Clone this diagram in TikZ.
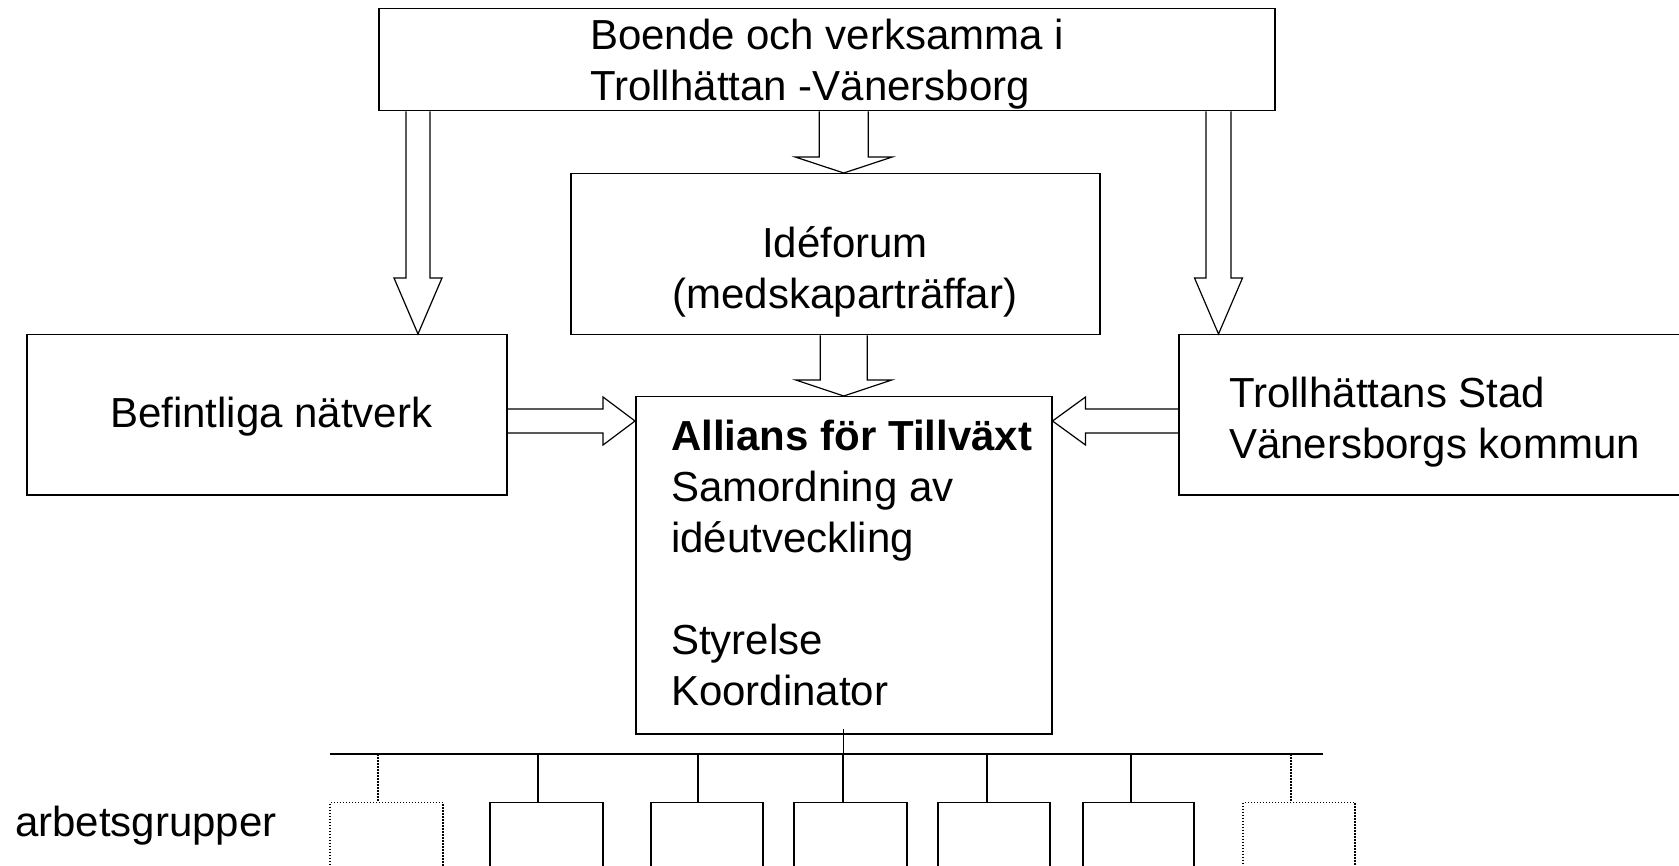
\documentclass[tikz,border=0pt]{standalone}
\usepackage{fontspec}
\setmainfont{Liberation Sans}
\usetikzlibrary{calc}

% hollow block arrow: start, tip, shaft half width, head half width, head length
\newcommand{\hollowarrow}[5]{%
  \coordinate (hb) at ($(#2)!#5pt!(#1)$);
  \draw[blockarrow] ($(#1)!#3pt!90:(#2)$) -- ($(hb)!#3pt!90:(#2)$) -- ($(hb)!#4pt!90:(#2)$) -- (#2)
    -- ($(hb)!#4pt!-90:(#2)$) -- ($(hb)!#3pt!-90:(#2)$) -- ($(#1)!#3pt!-90:(#2)$);
}

\begin{document}
\begin{tikzpicture}[x=1pt,y=-1pt,
        box/.style={
        draw=black,
        line width=1.5pt,
        inner sep=0pt,
        anchor=north west},
        grpbox/.style={draw=black, line width=1.4pt, inner sep=0pt, minimum height=64pt, anchor=north},
        dotline/.style={dash pattern=on 1.5pt off 1.5pt},
        blockarrow/.style={draw=black, line width=1.2pt, line join=miter},
        txt/.style={anchor=base west, inner sep=0pt, align=left},
        font=\fontsize{42}{51}\selectfont
        ]
        \useasboundingbox (0,0) rectangle (1679,866);

        \node[box, minimum width=896pt, minimum height=102pt] (top) at (378,8) {};
        \node[box, minimum width=529pt, minimum height=161pt] (idea) at (570,173) {};
        \node[box, minimum width=480pt, minimum height=160pt] (bef) at (26,334) {};
        \node[box, minimum width=530pt, minimum height=160pt] (troll) at (1178,334) {};
        \node[box, minimum width=416pt, minimum height=337pt] (all) at (635,396) {};

        % texts (multi-line: base is the last line)
        \node[txt] (ttop) at (590,101) {Boende och verksamma i\\Trollhättan -Vänersborg};
        \node[txt, anchor=base, align=center] (tidea) at (845,309) {Idéforum\\(medskaparträffar)};
        \node[txt] (tbef) at (110,428) {Befintliga nätverk};
        \node[txt] (ttroll) at (1229,458) {Trollhättans Stad\\Vänersborgs kommun};
        \node[txt] (tall) at (671,705) {\textbf{Allians för Tillväxt}\\Samordning av\\idéutveckling\\[51pt]Styrelse\\Koordinator};
        \node[txt] (tgrp) at (15,836) {arbetsgrupper};

        % arrows
        \coordinate (ax1) at (418,0);
        \coordinate (ax2) at (1218.5,0);
        \coordinate (ay) at (0,421);
        \coordinate (a1s) at (ax1 |- top.south);
        \coordinate (a1e) at (ax1 |- bef.north);
        \coordinate (a2s) at (all.north |- top.south);
        \coordinate (a2e) at (all.north |- idea.north);
        \coordinate (a3s) at (ax2 |- top.south);
        \coordinate (a3e) at (ax2 |- troll.north);
        \coordinate (a4s) at (all.north |- idea.south);
        \coordinate (a4e) at (all.north);
        \coordinate (a5s) at (bef.east |- ay);
        \coordinate (a5e) at (all.west |- ay);
        \coordinate (a6s) at (troll.west |- ay);
        \coordinate (a6e) at (all.east |- ay);

        \foreach \s/\e/\w/\hw/\hl in {% start/tip/shaft/head width/head length
            a1s/a1e/12/24/56,
            a2s/a2e/24.5/48.5/16,
            a3s/a3e/12.5/24/56,
            a4s/a4e/23.5/48/16,
            a5s/a5e/12/24/32,
            a6s/a6e/12/24/33}
            \hollowarrow{\s}{\e}{\w}{\hw}{\hl};

        % working groups
        \coordinate (barl) at (330,754);
        \coordinate (barr) at (1323,754);
        \draw[line width=1.5pt] (barl) -- (barr);
        \draw[line width=1.3pt] ([yshift=6pt]all.south) -- (all.south |- barl);

        \foreach \n/\l/\r/\d/\ls in {% name/left/right/drop/line
            g1/330/443/378/dotline,
            g2/490/603/538/solid,
            g3/651/763/698/solid,
            g4/794/907/843/solid,
            g5/938/1050/987/solid,
            g6/1083/1194/1131/solid,
            g7/1243/1355/1291/dotline}
        {
            \node[grpbox,\ls,minimum width={\r-\l}] (\n) at ({(\l+\r)/2},802) {};
            \coordinate (b\n) at (\d,754);
            \draw[\ls, line width=1.3pt] (b\n) -- (b\n |- \n.north);
        }
\end{tikzpicture}
\end{document}
